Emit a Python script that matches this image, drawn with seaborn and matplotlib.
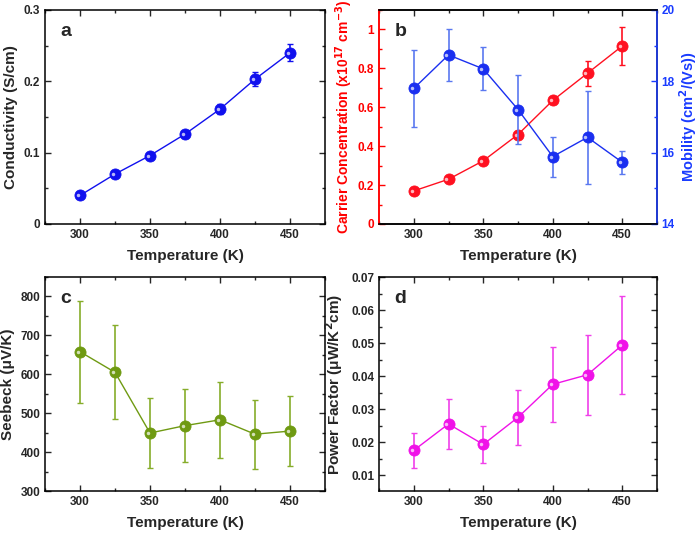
import numpy as np
import pandas as pd
import matplotlib
matplotlib.use("Agg")
import matplotlib.pyplot as plt
from matplotlib.ticker import AutoMinorLocator, FuncFormatter
import seaborn as sns

sns.set_style("ticks")
plt.rcParams['font.family'] = ['Liberation Sans', 'DejaVu Sans']
plt.rcParams['font.weight'] = 'bold'
plt.rcParams['mathtext.default'] = 'bf'
plt.rcParams['xtick.top'] = True
plt.rcParams['ytick.right'] = True
plt.rcParams['xtick.direction'] = 'in'
plt.rcParams['ytick.direction'] = 'in'

temperature = [300, 325, 350, 375, 400, 425, 450]
conductivity = [0.040, 0.070, 0.096, 0.126, 0.161, 0.203, 0.240]
conductivity_err = [0.003, 0.003, 0.003, 0.005, 0.007, 0.010, 0.012]
carrier = [0.17, 0.23, 0.325, 0.46, 0.635, 0.775, 0.915]
carrier_err = [0.01, 0.01, 0.01, 0.02, 0.02, 0.065, 0.10]
mobility = [17.80, 18.74, 18.35, 17.21, 15.89, 16.43, 15.73]
mobility_err = [1.07, 0.74, 0.60, 0.97, 0.56, 1.30, 0.32]
seebeck = [658, 605, 449, 468, 483, 446, 454]
seebeck_err = [131, 121, 89, 93, 97, 89, 91]
power_factor = [0.0175, 0.0255, 0.0193, 0.0275, 0.0375, 0.0404, 0.0494]
power_factor_err = [0.0052, 0.0077, 0.0057, 0.0083, 0.0113, 0.0121, 0.0148]

W, H = 700, 534
fig = plt.figure(figsize=(7, 5.34), dpi=100)

def rect(l, r, t, b):
    return [l / W, 1 - b / H, (r - l) / W, (b - t) / H]

ax_a = fig.add_axes(rect(45, 325, 10, 224))
ax_b = fig.add_axes(rect(379, 657, 10, 224))
ax_c = fig.add_axes(rect(45, 325, 277, 491))
ax_d = fig.add_axes(rect(379, 657, 277, 491))

fmt = FuncFormatter(lambda v, p: ('%g' % round(v, 6)))
TICK_FS = 8.5
LABEL_FS = 11

def style(ax, right=True):
    ax.set_xlim(275, 475)
    ax.set_xticks([300, 350, 400, 450])
    ax.xaxis.set_minor_locator(AutoMinorLocator(2))
    ax.yaxis.set_minor_locator(AutoMinorLocator(2))
    ax.yaxis.set_major_formatter(fmt)
    ax.tick_params(which='both', direction='in', top=True, right=right, width=1.0)
    ax.tick_params(which='major', length=4)
    ax.tick_params(which='minor', length=2)
    ax.tick_params(axis='both', labelsize=TICK_FS)
    for lab in ax.get_xticklabels() + ax.get_yticklabels():
        lab.set_fontweight('bold')
    for s in ax.spines.values():
        s.set_linewidth(1.1)
        s.set_color('black')
    ax.set_xlabel('Temperature (K)', fontsize=LABEL_FS, fontweight='bold', labelpad=6)

def series(ax, y, yerr, color, ecolor=None, capsize=2.5):
    df = pd.DataFrame({'T': temperature, 'v': y})
    ax.errorbar(temperature, y, yerr=yerr, fmt='none', ecolor=ecolor or color,
                elinewidth=1.2, capsize=capsize, capthick=1.0, zorder=2)
    sns.lineplot(data=df, x='T', y='v', ax=ax, color=color, linewidth=1.0,
                 marker='o', markersize=8, markeredgewidth=0.6,
                 markeredgecolor=color, zorder=3)
    ax.plot(np.array(temperature) - 1.5, np.array(y), linestyle='none', marker='o',
            markersize=2.5, color='white', alpha=0.7, markeredgewidth=0, zorder=4)

# Panel a
series(ax_a, conductivity, conductivity_err, '#1010ee')
style(ax_a)
ax_a.set_ylim(0, 0.3)
ax_a.set_yticks([0, 0.1, 0.2, 0.3])
ax_a.set_ylabel('Conductivity (S/cm)', fontsize=LABEL_FS, fontweight='bold')
ax_a.text(0.055, 0.9, 'a', transform=ax_a.transAxes, fontsize=14, fontweight='bold', va='center')

# Panel b
series(ax_b, carrier, carrier_err, '#ff1020')
style(ax_b, right=False)
ax_b.set_ylim(0, 1.1)
ax_b.set_yticks([0, 0.2, 0.4, 0.6, 0.8, 1.0])
ax_b.tick_params(axis='y', which='both', colors='#ff0000', labelcolor='#ff0000')
ax_b.spines['left'].set_color('#ff0000')
ax_b.set_ylabel('Carrier Concentration (x10$^{17}$ cm$^{-3}$)', fontsize=10,
                fontweight='bold', color='#ff0000', labelpad=2)
ax_b.set_xlabel('Temperature (K)', fontsize=LABEL_FS, fontweight='bold', labelpad=6)
ax_b2 = ax_b.twinx()
series(ax_b2, mobility, mobility_err, '#1a2ff0', ecolor='#5a78f0')
ax_b2.set_ylim(14, 20)
ax_b2.set_yticks([14, 16, 18, 20])
ax_b2.yaxis.set_minor_locator(AutoMinorLocator(2))
ax_b2.tick_params(axis='y', which='both', direction='in', left=False, right=True,
                  colors='#1a3cff', labelcolor='#1a3cff', labelsize=TICK_FS, width=1.0, pad=3)
ax_b2.tick_params(axis='y', which='major', length=4)
ax_b2.tick_params(axis='y', which='minor', length=2)
for lab in ax_b2.get_yticklabels():
    lab.set_fontweight('bold')
for s in ax_b2.spines.values():
    s.set_linewidth(1.1)
ax_b2.spines['right'].set_color('#1a3cff')
ax_b2.spines['left'].set_color('#ff0000')
ax_b2.spines['top'].set_color('black')
ax_b2.spines['bottom'].set_color('black')
ax_b2.set_xlabel('')
ax_b2.set_ylabel('Mobility (cm$^2$/(Vs))', fontsize=10.5, fontweight='bold', color='#1a3cff',
                 labelpad=2)
ax_b.text(0.055, 0.9, 'b', transform=ax_b.transAxes, fontsize=14, fontweight='bold', va='center')

# Panel c
series(ax_c, seebeck, seebeck_err, '#6f9a12', ecolor='#86ad2a')
style(ax_c)
ax_c.set_ylim(300, 850)
ax_c.set_yticks([300, 400, 500, 600, 700, 800])
ax_c.set_ylabel('Seebeck (μV/K)', fontsize=LABEL_FS, fontweight='bold')
ax_c.text(0.055, 0.9, 'c', transform=ax_c.transAxes, fontsize=14, fontweight='bold', va='center')

# Panel d
series(ax_d, power_factor, power_factor_err, '#f012e8', ecolor='#f040ea')
style(ax_d)
ax_d.set_ylim(0.0052, 0.07)
ax_d.set_yticks([0.01, 0.02, 0.03, 0.04, 0.05, 0.06, 0.07])
ax_d.set_ylabel('Power Factor (μW/K$^2$cm)', fontsize=LABEL_FS, fontweight='bold')
ax_d.text(0.055, 0.9, 'd', transform=ax_d.transAxes, fontsize=14, fontweight='bold', va='center')

fig.savefig('out.png', dpi=100)
